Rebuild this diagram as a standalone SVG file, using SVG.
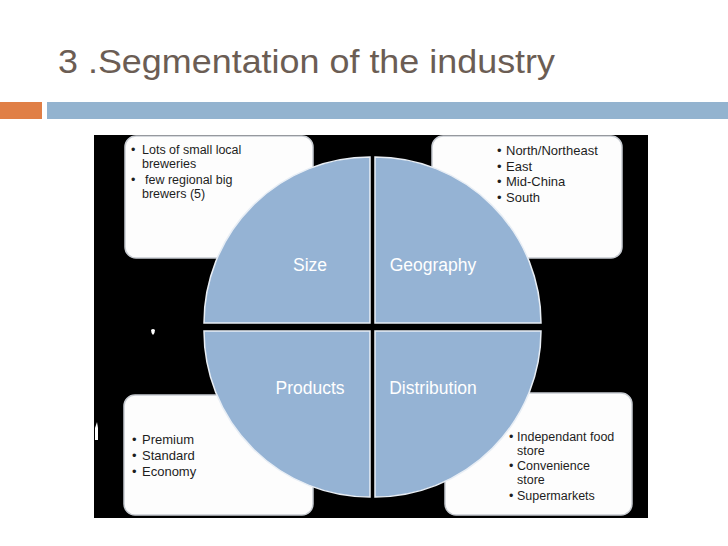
<svg xmlns="http://www.w3.org/2000/svg" width="728" height="546" viewBox="0 0 728 546">
<style>
.title{font-family:"Liberation Sans",Arial,sans-serif;font-size:34px;fill:#6b5d54}
.box{fill:#fdfdfd;stroke:#c8ccd2;stroke-width:1.5}
.q{fill:#95b3d4;stroke:#e8eef5;stroke-width:1.5}
.lbl{font-family:"Liberation Sans",Arial,sans-serif;font-size:17.5px;fill:#ffffff;text-anchor:middle}
.t{font-family:"Liberation Sans",Arial,sans-serif;font-size:13px;fill:#1e1e1e}
.s{font-size:12.5px}
</style>
<rect x="0" y="0" width="728" height="546" fill="#ffffff"/>
<g id="header">
<text class="title" x="58" y="73" textLength="497" lengthAdjust="spacingAndGlyphs">3 .Segmentation of the industry</text>
<rect x="0" y="102" width="42" height="17" fill="#e07f46"/>
<rect x="47" y="102" width="681" height="17" fill="#93b3cf"/>
</g>
<rect x="94" y="135" width="554" height="383" fill="#000000"/>
<path d="M151,330 q2,-2 4,0 q0,3 -2,5 q-2,-2 -2,-5z" fill="#ffffff"/>
<path d="M95,428 l2,-6 l1,6 v12 h-3z" fill="#ffffff"/>
<g id="box-size">
<rect class="box" x="125" y="136" width="188" height="122" rx="11"/>
<text class="t s" x="131" y="154">•</text><text class="t s" x="142" y="154">Lots of small local</text>
<text class="t s" x="142" y="168">breweries</text>
<text class="t s" x="131" y="184">•</text><text class="t s" x="145" y="184">few regional big</text>
<text class="t s" x="142" y="198">brewers (5)</text>
</g>
<g id="box-geography">
<rect class="box" x="432" y="136" width="190" height="122" rx="11"/>
<text class="t" x="497" y="155">•</text><text class="t" x="506" y="155">North/Northeast</text>
<text class="t" x="497" y="170.5">•</text><text class="t" x="506" y="170.5">East</text>
<text class="t" x="497" y="186">•</text><text class="t" x="506" y="186">Mid-China</text>
<text class="t" x="497" y="201.5">•</text><text class="t" x="506" y="201.5">South</text>
</g>
<g id="box-products">
<rect class="box" x="124" y="395" width="189" height="120" rx="11"/>
<text class="t" x="132" y="444">•</text><text class="t" x="142" y="444">Premium</text>
<text class="t" x="132" y="460">•</text><text class="t" x="142" y="460">Standard</text>
<text class="t" x="132" y="476">•</text><text class="t" x="142" y="476">Economy</text>
</g>
<g id="box-distribution">
<rect class="box" x="445" y="393" width="187" height="122" rx="11"/>
<text class="t s" x="509" y="441">•</text><text class="t s" x="517" y="441">Independant food</text>
<text class="t s" x="517" y="455">store</text>
<text class="t s" x="509" y="470">•</text><text class="t s" x="517" y="470">Convenience</text>
<text class="t s" x="517" y="484">store</text>
<text class="t s" x="509" y="500">•</text><text class="t s" x="517" y="500">Supermarkets</text>
</g>
<g id="q-size">
<path class="q" d="M370,323 L204,323 A166,166 0 0 1 370,157 Z"/>
<text class="lbl" x="310" y="271">Size</text>
</g>
<g id="q-geography">
<path class="q" d="M375,323 L375,157 A166,166 0 0 1 541,323 Z"/>
<text class="lbl" x="433" y="271">Geography</text>
</g>
<g id="q-products">
<path class="q" d="M370,331 L370,497 A166,166 0 0 1 204,331 Z"/>
<text class="lbl" x="310" y="394">Products</text>
</g>
<g id="q-distribution">
<path class="q" d="M375,331 L541,331 A166,166 0 0 1 375,497 Z"/>
<text class="lbl" x="433" y="394">Distribution</text>
</g>
<g id="connectors"></g>
</svg>
